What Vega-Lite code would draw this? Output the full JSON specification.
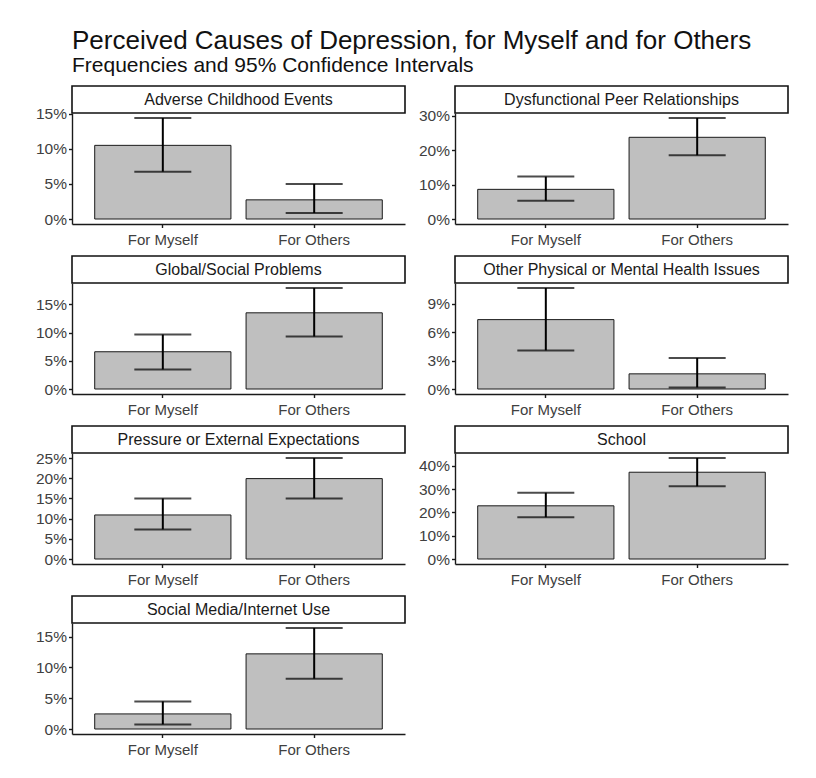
{
  "$schema": "https://vega.github.io/schema/vega-lite/v6.json",
  "background": "white",
  "padding": {"left": 32, "top": 28, "right": 10, "bottom": 10},
  "title": {"text": "Perceived Causes of Depression, for Myself and for Others", "subtitle": "Frequencies and 95% Confidence Intervals"},
  "datasets": {
    "d": [
      {"cause": "Adverse Childhood Events", "who": "For Myself", "pct": 10.5, "lo": 6.75, "hi": 14.4},
      {"cause": "Adverse Childhood Events", "who": "For Others", "pct": 2.73, "lo": 0.85, "hi": 5.0},
      {"cause": "Dysfunctional Peer Relationships", "who": "For Myself", "pct": 8.6, "lo": 5.3, "hi": 12.3},
      {"cause": "Dysfunctional Peer Relationships", "who": "For Others", "pct": 23.7, "lo": 18.5, "hi": 29.3},
      {"cause": "Global/Social Problems", "who": "For Myself", "pct": 6.6, "lo": 3.47, "hi": 9.65},
      {"cause": "Global/Social Problems", "who": "For Others", "pct": 13.5, "lo": 9.3, "hi": 17.9},
      {"cause": "Other Physical or Mental Health Issues", "who": "For Myself", "pct": 7.33, "lo": 4.08, "hi": 10.67},
      {"cause": "Other Physical or Mental Health Issues", "who": "For Others", "pct": 1.6, "lo": 0.17, "hi": 3.28},
      {"cause": "Pressure or External Expectations", "who": "For Myself", "pct": 10.9, "lo": 7.33, "hi": 15.0},
      {"cause": "Pressure or External Expectations", "who": "For Others", "pct": 19.9, "lo": 15.0, "hi": 25.0},
      {"cause": "School", "who": "For Myself", "pct": 22.8, "lo": 17.9, "hi": 28.4},
      {"cause": "School", "who": "For Others", "pct": 37.2, "lo": 31.2, "hi": 43.3},
      {"cause": "Social Media/Internet Use", "who": "For Myself", "pct": 2.45, "lo": 0.75, "hi": 4.48},
      {"cause": "Social Media/Internet Use", "who": "For Others", "pct": 12.2, "lo": 8.17, "hi": 16.4}
    ]
  },
  "columns": 2,
  "spacing": {"row": 7, "column": 9},
  "concat": [
    {
      "bounds": "flush", "spacing": 0,
      "vconcat": [
        {"width": 333, "height": 27, "data": {"values": [{"label": "Adverse Childhood Events"}]}, "mark": {"type": "text", "fontSize": 16, "color": "#1a1a1a"}, "encoding": {"text": {"field": "label"}}, "view": {"stroke": "#111111", "strokeWidth": 1.6, "fill": "white"}},
        {"width": 333, "height": 111, "data": {"name": "d"}, "transform": [{"filter": "datum.cause === 'Adverse Childhood Events'"}], "view": {"stroke": null},
          "encoding": {"x": {"field": "who", "type": "nominal", "sort": ["For Myself", "For Others"], "scale": {"paddingInner": 0.1, "paddingOuter": 0.15}, "axis": {"title": null}}},
          "layer": [
            {"mark": {"type": "bar", "fill": "#bfbfbf", "stroke": "#1a1a1a", "strokeWidth": 1}, "encoding": {"y": {"field": "pct", "type": "quantitative", "scale": {"zero": true, "nice": false, "padding": 5}, "axis": {"title": null, "values": [0, 5, 10, 15], "tickCount": 20}}}},
            {"mark": {"type": "rule", "color": "black", "strokeWidth": 2}, "encoding": {"y": {"field": "lo", "type": "quantitative"}, "y2": {"field": "hi"}}},
            {"mark": {"type": "tick", "orient": "horizontal", "size": 57, "thickness": 2, "color": "black"}, "encoding": {"y": {"field": "lo", "type": "quantitative"}}},
            {"mark": {"type": "tick", "orient": "horizontal", "size": 57, "thickness": 2, "color": "black"}, "encoding": {"y": {"field": "hi", "type": "quantitative"}}}
          ]
        }
      ]
    },
    {
      "bounds": "flush", "spacing": 0,
      "vconcat": [
        {"width": 333, "height": 27, "data": {"values": [{"label": "Dysfunctional Peer Relationships"}]}, "mark": {"type": "text", "fontSize": 16, "color": "#1a1a1a"}, "encoding": {"text": {"field": "label"}}, "view": {"stroke": "#111111", "strokeWidth": 1.6, "fill": "white"}},
        {"width": 333, "height": 111, "data": {"name": "d"}, "transform": [{"filter": "datum.cause === 'Dysfunctional Peer Relationships'"}], "view": {"stroke": null},
          "encoding": {"x": {"field": "who", "type": "nominal", "sort": ["For Myself", "For Others"], "scale": {"paddingInner": 0.1, "paddingOuter": 0.15}, "axis": {"title": null}}},
          "layer": [
            {"mark": {"type": "bar", "fill": "#bfbfbf", "stroke": "#1a1a1a", "strokeWidth": 1}, "encoding": {"y": {"field": "pct", "type": "quantitative", "scale": {"zero": true, "nice": false, "padding": 5}, "axis": {"title": null, "values": [0, 10, 20, 30], "tickCount": 20}}}},
            {"mark": {"type": "rule", "color": "black", "strokeWidth": 2}, "encoding": {"y": {"field": "lo", "type": "quantitative"}, "y2": {"field": "hi"}}},
            {"mark": {"type": "tick", "orient": "horizontal", "size": 57, "thickness": 2, "color": "black"}, "encoding": {"y": {"field": "lo", "type": "quantitative"}}},
            {"mark": {"type": "tick", "orient": "horizontal", "size": 57, "thickness": 2, "color": "black"}, "encoding": {"y": {"field": "hi", "type": "quantitative"}}}
          ]
        }
      ]
    },
    {
      "bounds": "flush", "spacing": 0,
      "vconcat": [
        {"width": 333, "height": 27, "data": {"values": [{"label": "Global/Social Problems"}]}, "mark": {"type": "text", "fontSize": 16, "color": "#1a1a1a"}, "encoding": {"text": {"field": "label"}}, "view": {"stroke": "#111111", "strokeWidth": 1.6, "fill": "white"}},
        {"width": 333, "height": 111, "data": {"name": "d"}, "transform": [{"filter": "datum.cause === 'Global/Social Problems'"}], "view": {"stroke": null},
          "encoding": {"x": {"field": "who", "type": "nominal", "sort": ["For Myself", "For Others"], "scale": {"paddingInner": 0.1, "paddingOuter": 0.15}, "axis": {"title": null}}},
          "layer": [
            {"mark": {"type": "bar", "fill": "#bfbfbf", "stroke": "#1a1a1a", "strokeWidth": 1}, "encoding": {"y": {"field": "pct", "type": "quantitative", "scale": {"zero": true, "nice": false, "padding": 5}, "axis": {"title": null, "values": [0, 5, 10, 15], "tickCount": 20}}}},
            {"mark": {"type": "rule", "color": "black", "strokeWidth": 2}, "encoding": {"y": {"field": "lo", "type": "quantitative"}, "y2": {"field": "hi"}}},
            {"mark": {"type": "tick", "orient": "horizontal", "size": 57, "thickness": 2, "color": "black"}, "encoding": {"y": {"field": "lo", "type": "quantitative"}}},
            {"mark": {"type": "tick", "orient": "horizontal", "size": 57, "thickness": 2, "color": "black"}, "encoding": {"y": {"field": "hi", "type": "quantitative"}}}
          ]
        }
      ]
    },
    {
      "bounds": "flush", "spacing": 0,
      "vconcat": [
        {"width": 333, "height": 27, "data": {"values": [{"label": "Other Physical or Mental Health Issues"}]}, "mark": {"type": "text", "fontSize": 16, "color": "#1a1a1a"}, "encoding": {"text": {"field": "label"}}, "view": {"stroke": "#111111", "strokeWidth": 1.6, "fill": "white"}},
        {"width": 333, "height": 111, "data": {"name": "d"}, "transform": [{"filter": "datum.cause === 'Other Physical or Mental Health Issues'"}], "view": {"stroke": null},
          "encoding": {"x": {"field": "who", "type": "nominal", "sort": ["For Myself", "For Others"], "scale": {"paddingInner": 0.1, "paddingOuter": 0.15}, "axis": {"title": null}}},
          "layer": [
            {"mark": {"type": "bar", "fill": "#bfbfbf", "stroke": "#1a1a1a", "strokeWidth": 1}, "encoding": {"y": {"field": "pct", "type": "quantitative", "scale": {"zero": true, "nice": false, "padding": 5}, "axis": {"title": null, "values": [0, 3, 6, 9], "tickCount": 20}}}},
            {"mark": {"type": "rule", "color": "black", "strokeWidth": 2}, "encoding": {"y": {"field": "lo", "type": "quantitative"}, "y2": {"field": "hi"}}},
            {"mark": {"type": "tick", "orient": "horizontal", "size": 57, "thickness": 2, "color": "black"}, "encoding": {"y": {"field": "lo", "type": "quantitative"}}},
            {"mark": {"type": "tick", "orient": "horizontal", "size": 57, "thickness": 2, "color": "black"}, "encoding": {"y": {"field": "hi", "type": "quantitative"}}}
          ]
        }
      ]
    },
    {
      "bounds": "flush", "spacing": 0,
      "vconcat": [
        {"width": 333, "height": 27, "data": {"values": [{"label": "Pressure or External Expectations"}]}, "mark": {"type": "text", "fontSize": 16, "color": "#1a1a1a"}, "encoding": {"text": {"field": "label"}}, "view": {"stroke": "#111111", "strokeWidth": 1.6, "fill": "white"}},
        {"width": 333, "height": 111, "data": {"name": "d"}, "transform": [{"filter": "datum.cause === 'Pressure or External Expectations'"}], "view": {"stroke": null},
          "encoding": {"x": {"field": "who", "type": "nominal", "sort": ["For Myself", "For Others"], "scale": {"paddingInner": 0.1, "paddingOuter": 0.15}, "axis": {"title": null}}},
          "layer": [
            {"mark": {"type": "bar", "fill": "#bfbfbf", "stroke": "#1a1a1a", "strokeWidth": 1}, "encoding": {"y": {"field": "pct", "type": "quantitative", "scale": {"zero": true, "nice": false, "padding": 5}, "axis": {"title": null, "values": [0, 5, 10, 15, 20, 25], "tickCount": 20}}}},
            {"mark": {"type": "rule", "color": "black", "strokeWidth": 2}, "encoding": {"y": {"field": "lo", "type": "quantitative"}, "y2": {"field": "hi"}}},
            {"mark": {"type": "tick", "orient": "horizontal", "size": 57, "thickness": 2, "color": "black"}, "encoding": {"y": {"field": "lo", "type": "quantitative"}}},
            {"mark": {"type": "tick", "orient": "horizontal", "size": 57, "thickness": 2, "color": "black"}, "encoding": {"y": {"field": "hi", "type": "quantitative"}}}
          ]
        }
      ]
    },
    {
      "bounds": "flush", "spacing": 0,
      "vconcat": [
        {"width": 333, "height": 27, "data": {"values": [{"label": "School"}]}, "mark": {"type": "text", "fontSize": 16, "color": "#1a1a1a"}, "encoding": {"text": {"field": "label"}}, "view": {"stroke": "#111111", "strokeWidth": 1.6, "fill": "white"}},
        {"width": 333, "height": 111, "data": {"name": "d"}, "transform": [{"filter": "datum.cause === 'School'"}], "view": {"stroke": null},
          "encoding": {"x": {"field": "who", "type": "nominal", "sort": ["For Myself", "For Others"], "scale": {"paddingInner": 0.1, "paddingOuter": 0.15}, "axis": {"title": null}}},
          "layer": [
            {"mark": {"type": "bar", "fill": "#bfbfbf", "stroke": "#1a1a1a", "strokeWidth": 1}, "encoding": {"y": {"field": "pct", "type": "quantitative", "scale": {"zero": true, "nice": false, "padding": 5}, "axis": {"title": null, "values": [0, 10, 20, 30, 40], "tickCount": 20}}}},
            {"mark": {"type": "rule", "color": "black", "strokeWidth": 2}, "encoding": {"y": {"field": "lo", "type": "quantitative"}, "y2": {"field": "hi"}}},
            {"mark": {"type": "tick", "orient": "horizontal", "size": 57, "thickness": 2, "color": "black"}, "encoding": {"y": {"field": "lo", "type": "quantitative"}}},
            {"mark": {"type": "tick", "orient": "horizontal", "size": 57, "thickness": 2, "color": "black"}, "encoding": {"y": {"field": "hi", "type": "quantitative"}}}
          ]
        }
      ]
    },
    {
      "bounds": "flush", "spacing": 0,
      "vconcat": [
        {"width": 333, "height": 27, "data": {"values": [{"label": "Social Media/Internet Use"}]}, "mark": {"type": "text", "fontSize": 16, "color": "#1a1a1a"}, "encoding": {"text": {"field": "label"}}, "view": {"stroke": "#111111", "strokeWidth": 1.6, "fill": "white"}},
        {"width": 333, "height": 111, "data": {"name": "d"}, "transform": [{"filter": "datum.cause === 'Social Media/Internet Use'"}], "view": {"stroke": null},
          "encoding": {"x": {"field": "who", "type": "nominal", "sort": ["For Myself", "For Others"], "scale": {"paddingInner": 0.1, "paddingOuter": 0.15}, "axis": {"title": null}}},
          "layer": [
            {"mark": {"type": "bar", "fill": "#bfbfbf", "stroke": "#1a1a1a", "strokeWidth": 1}, "encoding": {"y": {"field": "pct", "type": "quantitative", "scale": {"zero": true, "nice": false, "padding": 5}, "axis": {"title": null, "values": [0, 5, 10, 15], "tickCount": 20}}}},
            {"mark": {"type": "rule", "color": "black", "strokeWidth": 2}, "encoding": {"y": {"field": "lo", "type": "quantitative"}, "y2": {"field": "hi"}}},
            {"mark": {"type": "tick", "orient": "horizontal", "size": 57, "thickness": 2, "color": "black"}, "encoding": {"y": {"field": "lo", "type": "quantitative"}}},
            {"mark": {"type": "tick", "orient": "horizontal", "size": 57, "thickness": 2, "color": "black"}, "encoding": {"y": {"field": "hi", "type": "quantitative"}}}
          ]
        }
      ]
    }
  ],
  "config": {
    "font": "Liberation Sans",
    "axis": {"grid": false, "domainColor": "#1a1a1a", "domainWidth": 1.4, "tickColor": "#1a1a1a", "tickWidth": 1.4, "tickSize": 3.5, "labelColor": "#404040", "labelFontSize": 15, "labelPadding": 2, "labelFlush": false, "labelOverlap": false},
    "axisX": {"labelAngle": 0, "labelPadding": 5},
    "axisY": {"labelExpr": "datum.value + '%'", "minExtent": 40, "maxExtent": 40, "labelFontSize": 15.5},
    "title": {"anchor": "start", "frame": "group", "fontSize": 26, "fontWeight": "normal", "color": "#111111", "subtitleFontSize": 21, "subtitleColor": "#111111", "subtitlePadding": 1, "offset": 9}
  }
}
